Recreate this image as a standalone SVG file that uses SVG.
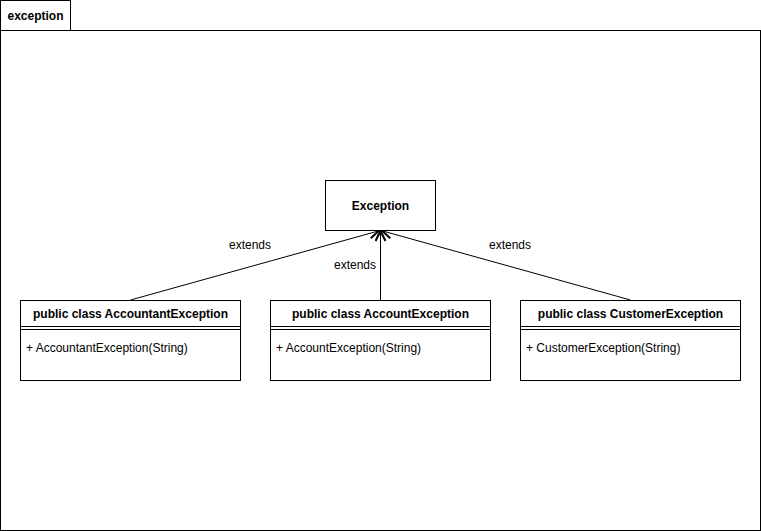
<svg xmlns="http://www.w3.org/2000/svg" width="761" height="531" viewBox="0 0 761 531">
<defs>
<style>
text{font-family:"Liberation Sans",Arial,sans-serif;font-size:12px;fill:#000}
.b{font-weight:bold}
.box{fill:#fff;stroke:#000;stroke-width:1}
.ln{stroke:#000;stroke-width:1;fill:none}
.edge{stroke:#000;stroke-width:1;fill:none;marker-end:url(#open)}
</style>
<marker id="open" viewBox="0 0 12 12" refX="11" refY="6" markerWidth="12" markerHeight="12" markerUnits="userSpaceOnUse" orient="auto">
<path d="M1,1 L11,6 L1,11" fill="none" stroke="#000" stroke-width="2"/>
</marker>
</defs>
<rect width="761" height="531" fill="#fff"/>
<g id="package">
<rect class="box" x="0.5" y="0.5" width="70" height="30"/>
<rect class="box" x="0.5" y="30.5" width="760" height="500"/>
<text class="b" x="35.5" y="19.5" text-anchor="middle">exception</text>
</g>
<g id="connectors">
<line class="edge" x1="130.5" y1="300" x2="379" y2="230.8"/>
<line class="edge" x1="380.5" y1="300" x2="380.5" y2="231"/>
<line class="edge" x1="630.5" y1="300" x2="382" y2="230.8"/>
<text x="250" y="248.5" text-anchor="middle">extends</text>
<text x="355" y="269" text-anchor="middle">extends</text>
<text x="510" y="248.5" text-anchor="middle">extends</text>
</g>
<g id="Exception">
<rect class="box" x="325.5" y="180.5" width="110" height="50"/>
<text class="b" x="380.5" y="209.5" text-anchor="middle">Exception</text>
</g>
<g id="AccountantException">
<rect class="box" x="20.5" y="300.5" width="220" height="80"/>
<line class="ln" x1="20.5" y1="326.5" x2="240.5" y2="326.5"/>
<line class="ln" x1="20.5" y1="329.5" x2="240.5" y2="329.5"/>
<text class="b" x="130.5" y="317.5" text-anchor="middle">public class AccountantException</text>
<text x="26" y="352">+ AccountantException(String)</text>
</g>
<g id="AccountException">
<rect class="box" x="270.5" y="300.5" width="220" height="80"/>
<line class="ln" x1="270.5" y1="326.5" x2="490.5" y2="326.5"/>
<line class="ln" x1="270.5" y1="329.5" x2="490.5" y2="329.5"/>
<text class="b" x="380.5" y="317.5" text-anchor="middle">public class AccountException</text>
<text x="276" y="352">+ AccountException(String)</text>
</g>
<g id="CustomerException">
<rect class="box" x="520.5" y="300.5" width="220" height="80"/>
<line class="ln" x1="520.5" y1="326.5" x2="740.5" y2="326.5"/>
<line class="ln" x1="520.5" y1="329.5" x2="740.5" y2="329.5"/>
<text class="b" x="630.5" y="317.5" text-anchor="middle">public class CustomerException</text>
<text x="526" y="352">+ CustomerException(String)</text>
</g>
</svg>
